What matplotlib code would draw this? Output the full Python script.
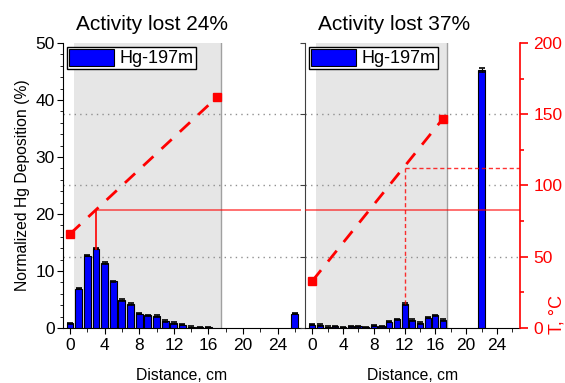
import matplotlib
matplotlib.use("Agg")
import matplotlib.pyplot as plt
import numpy as np

plt.rcParams['font.family'] = ['Liberation Sans', 'DejaVu Sans']

# ---- data ----
dist_left = [0, 1, 2, 3, 4, 5, 6, 7, 8, 9, 10, 11, 12, 13, 14, 15, 16, 26]
dep_left = [0.8, 6.9, 12.7, 13.9, 11.4, 8.2, 4.9, 4.2, 2.5, 2.2, 2.1, 1.2, 0.9, 0.6, 0.15, 0.1, 0.1, 2.5]
dist_right = [0, 1, 2, 3, 4, 5, 6, 7, 8, 9, 10, 11, 12, 13, 14, 15, 16, 17, 22]
dep_right = [0.6, 0.5, 0.2, 0.3, 0.1, 0.3, 0.3, 0.1, 0.4, 0.3, 1.1, 1.5, 4.2, 1.4, 0.9, 1.8, 2.2, 1.4, 45.3]
err_right_last = 0.4

temp_x = [0, 17]
temp_left = [66, 162]
temp_right = [33, 147]
t_threshold = 83          # horizontal solid line (T, °C)
x_cross_left = 3          # where threshold meets left gradient
x_peak_right = 12         # right panel peak position
t_peak_right = 112        # temperature at right peak

titles = ["Activity lost 24%", "Activity lost 37%"]
legend_label = "Hg-197m"
xlabel = "Distance, cm"
ylabel = "Normalized Hg Deposition (%)"
ylabel_r = "T, °C"
grad_span = [0.5, 17.5]

W, H = 565, 383
fig = plt.figure(figsize=(W / 100, H / 100), dpi=100)

def px(x0, y0, x1, y1):
    return [x0 / W, 1 - y1 / H, (x1 - x0) / W, (y1 - y0) / H]

axL = fig.add_axes(px(63, 43, 301, 328))
axR = fig.add_axes(px(305, 43, 520, 328))

RED = '#ff0000'
FS_TICK = 12.5
FS_LEG = 13

for ax, xs, ys, xlim in [(axL, dist_left, dep_left, (-0.81, 26.7)),
                         (axR, dist_right, dep_right, (-0.95, 27.0))]:
    ax.set_facecolor('none')
    ax.axvspan(grad_span[0], grad_span[1], color='#e6e6e6', zorder=0, lw=0)
    ax.axvline(grad_span[1], color='#a0a0a0', lw=1.0, zorder=0.5)
    errs = [0.12] * len(ys)
    if ax is axR:
        errs[-1] = err_right_last
    ax.bar(xs, ys, width=0.8, color='#0000ff', edgecolor='black', lw=0.8,
           yerr=errs, error_kw=dict(ecolor='black', capsize=2.5, lw=0.8, capthick=1.2),
           zorder=3, label=legend_label)
    ax.set_xlim(*xlim)
    ax.set_ylim(0, 50)
    for yv in [12.5, 25, 37.5]:
        ax.axhline(yv, color='#909090', lw=1.0, ls=(0, (1, 3)), zorder=1)
    ax.set_xticks(np.arange(0, 25, 4))
    ax.set_xticks(np.arange(0, 27, 2), minor=True)
    ax.spines['top'].set_visible(False)
    ax.spines['right'].set_visible(False)
    ax.tick_params(axis='x', labelsize=FS_TICK, direction='out', length=4, pad=3)
    ax.tick_params(axis='x', which='minor', length=3)
    ax.set_xlabel(xlabel, fontsize=11.3, labelpad=11)
    leg = ax.legend(loc='upper left', fontsize=FS_LEG, handlelength=2.5, handleheight=1.05,
                    fancybox=False, framealpha=1, edgecolor='black',
                    borderpad=0.12, handletextpad=0.3, borderaxespad=0.2)
    leg.get_frame().set_linewidth(1.0)
    leg.set_zorder(10)

axL.set_yticks(np.arange(0, 51, 10))
axL.set_yticks(np.arange(0, 51, 2), minor=True)
axL.tick_params(axis='y', labelsize=FS_TICK, length=4, pad=2)
axL.tick_params(axis='y', which='minor', length=2.5)
axL.set_ylabel(ylabel, fontsize=11.3, labelpad=4)

axR.set_yticks(np.arange(0, 51, 12.5))
axR.tick_params(axis='y', labelleft=False, length=3.5, color='#404040')
axR.spines['left'].set_color('#404040')

# temperature axes
tL = axL.twinx()
tL.set_ylim(0, 200)
tL.axis('off')
tR = axR.twinx()
tR.set_ylim(0, 200)
tR.set_xlim(axR.get_xlim())
tL.set_xlim(axL.get_xlim())
for s in ['top', 'left', 'bottom']:
    tR.spines[s].set_visible(False)
tR.spines['right'].set_color(RED)
tR.spines['right'].set_linewidth(1.2)
tR.set_yticks(np.arange(0, 201, 50))
tR.set_yticks(np.arange(0, 201, 25), minor=True)
tR.tick_params(axis='y', which='both', colors=RED, labelcolor=RED, labelsize=FS_TICK)
tR.tick_params(axis='y', which='major', length=6, width=1.2)
tR.tick_params(axis='y', which='minor', length=3, width=1.2)

# gradient lines
tL.plot(temp_x, temp_left, color=RED, lw=2, ls=(0, (5, 4)), zorder=5)
tL.plot(temp_x, temp_left, ls='none', marker='s', ms=6, color=RED, zorder=6)
tR.plot(temp_x, temp_right, color=RED, lw=2, ls=(0, (5, 4)), zorder=5)
tR.plot(temp_x, temp_right, ls='none', marker='s', ms=6, color=RED, zorder=6)

# threshold lines
top_left_bar = dep_left[dist_left.index(x_cross_left)]
axL.plot([x_cross_left, x_cross_left], [top_left_bar, t_threshold / 4], color=RED, lw=1.2, zorder=4)
tL.plot([x_cross_left, tL.get_xlim()[1]], [t_threshold, t_threshold], color=RED, lw=1.2, alpha=0.65, zorder=4)
tR.axhline(t_threshold, color=RED, lw=1.2, alpha=0.65, zorder=4)
top_right_bar = dep_right[dist_right.index(x_peak_right)]
tR.plot([x_peak_right, x_peak_right], [top_right_bar * 4, t_peak_right], color=RED, lw=1.0,
        ls=(0, (3, 2)), alpha=0.8, zorder=4)
tR.plot([x_peak_right, tR.get_xlim()[1]], [t_peak_right, t_peak_right], color=RED, lw=1.0,
        ls=(0, (3, 2)), alpha=0.8, zorder=4)

# titles
fig.text(152 / W, 1 - 25 / H, titles[0], fontsize=15, ha='center', va='center')
fig.text(394 / W, 1 - 25 / H, titles[1], fontsize=15, ha='center', va='center')
fig.text(557 / W, 1 - 334 / H, ylabel_r, fontsize=13, color=RED, rotation=90,
         ha='center', va='bottom')

fig.savefig('out.png', dpi=100)
